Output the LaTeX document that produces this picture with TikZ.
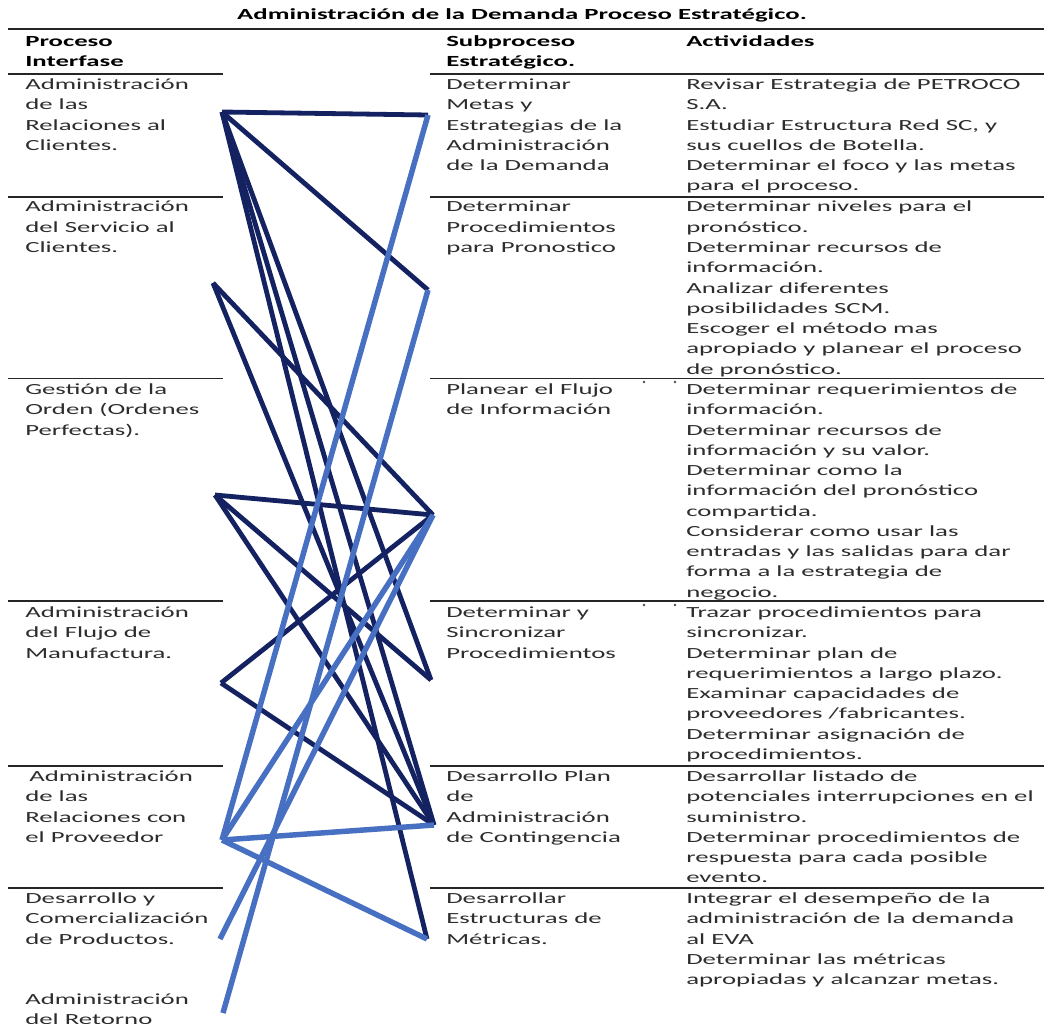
\documentclass[tikz,border=0pt]{standalone}
\usepackage{fontspec}
\setmainfont{Carlito}[FakeStretch=1.73]
\newcommand\cellfont{\fontsize{11.6pt}{15.2pt}\selectfont}
\definecolor{navyline}{RGB}{20,34,98}
\definecolor{steelline}{RGB}{72,112,194}
\definecolor{bodytext}{RGB}{45,45,45}
\begin{document}
\begin{tikzpicture}[x=0.75pt,y=-0.75pt,
  cell/.style={inner sep=0pt, anchor=base west, text=bodytext, font=\cellfont},
  head/.style={cell, text=black, font=\cellfont\bfseries},
  rulel/.style={line width=1.1pt, draw=black!85},
  dark/.style={draw=navyline, line width=3.6pt},
  light/.style={draw=steelline, line width=4.1pt}]
\useasboundingbox (0,0) rectangle (1044,1023);
\fill[white] (0,0) rectangle (1044,1023);

% title and header
\node[head, anchor=base] (title) at (522,19.5) {Administración de la Demanda Proceso Estratégico.};
\draw[rulel] (8,29) -- (1044,29);
\node[head] (h1) at (25,46.5) {\begin{tabular}[t]{@{}l@{}}Proceso\\Interfase\end{tabular}};
\node[head] (h2) at (446,46.5) {\begin{tabular}[t]{@{}l@{}}Subproceso\\Estratégico.\end{tabular}};
\node[head] (h3) at (686,46.5) {Actividades};

% row rules
\foreach \y in {74,197,378.5,601,766,888}{
  \draw[rulel] (8,\y) -- (223,\y);
  \draw[rulel] (430,\y) -- (1044,\y);
}
% small cell-corner marks under two of the rules
\foreach \y in {382,605}{
  \fill[black!70] (644,\y) circle (1pt);
  \fill[black!70] (675,\y) circle (1pt);
}

% left column: interface processes
\node[cell] (p1) at (25,89.5) {\begin{tabular}[t]{@{}l@{}}Administración\\de las\\Relaciones al\\Clientes.\end{tabular}};
\node[cell] (p2) at (25,212) {\begin{tabular}[t]{@{}l@{}}Administración\\del Servicio al\\Clientes.\end{tabular}};
\node[cell] (p3) at (25,394.5) {\begin{tabular}[t]{@{}l@{}}Gestión de la\\Orden (Ordenes\\Perfectas).\end{tabular}};
\node[cell] (p4) at (25,617.5) {\begin{tabular}[t]{@{}l@{}}Administración\\del Flujo de\\Manufactura.\end{tabular}};
\node[cell] (p5) at (25,781.5) {\begin{tabular}[t]{@{}l@{}}\hspace*{3pt}Administración\\de las\\Relaciones con\\el Proveedor\end{tabular}};
\node[cell] (p6) at (25,903.5) {\begin{tabular}[t]{@{}l@{}}Desarrollo y\\Comercialización\\de Productos.\end{tabular}};
\node[cell] (p7) at (25,1004.5) {\begin{tabular}[t]{@{}l@{}}Administración\\del Retorno\end{tabular}};

% middle column: strategic subprocesses
\node[cell] (s1) at (446,89.5) {\begin{tabular}[t]{@{}l@{}}Determinar\\Metas y\\Estrategias de la\\Administración\\de la Demanda\end{tabular}};
\node[cell] (s2) at (446,212) {\begin{tabular}[t]{@{}l@{}}Determinar\\Procedimientos\\para Pronostico\end{tabular}};
\node[cell] (s3) at (446,394.5) {\begin{tabular}[t]{@{}l@{}}Planear el Flujo\\de Información\end{tabular}};
\node[cell] (s4) at (446,617.5) {\begin{tabular}[t]{@{}l@{}}Determinar y\\Sincronizar\\Procedimientos\end{tabular}};
\node[cell] (s5) at (446,781.5) {\begin{tabular}[t]{@{}l@{}}Desarrollo Plan\\de\\Administración\\de Contingencia\end{tabular}};
\node[cell] (s6) at (446,903.5) {\begin{tabular}[t]{@{}l@{}}Desarrollar\\Estructuras de\\Métricas.\end{tabular}};

% right column: activities
\node[cell] (t1) at (686,89.5) {\begin{tabular}[t]{@{}l@{}}Revisar Estrategia de PETROCO\\S.A.\\Estudiar Estructura Red SC, y\\sus cuellos de Botella.\\Determinar el foco y las metas\\para el proceso.\end{tabular}};
\node[cell] (t2) at (686,212) {\begin{tabular}[t]{@{}l@{}}Determinar niveles para el\\pronóstico.\\Determinar recursos de\\información.\\Analizar diferentes\\posibilidades SCM.\\Escoger el método mas\\apropiado y planear el proceso\\de pronóstico.\end{tabular}};
\node[cell] (t3) at (686,394.5) {\begin{tabular}[t]{@{}l@{}}Determinar requerimientos de\\información.\\Determinar recursos de\\información y su valor.\\Determinar como la\\información del pronóstico\\compartida.\\Considerar como usar las\\entradas y las salidas para dar\\forma a la estrategia de\\negocio.\end{tabular}};
\node[cell] (t4) at (686,617.5) {\begin{tabular}[t]{@{}l@{}}Trazar procedimientos para\\sincronizar.\\Determinar plan de\\requerimientos a largo plazo.\\Examinar capacidades de\\proveedores /fabricantes.\\Determinar asignación de\\procedimientos.\end{tabular}};
\node[cell] (t5) at (686,781.5) {\begin{tabular}[t]{@{}l@{}}Desarrollar listado de\\potenciales interrupciones en el\\suministro.\\Determinar procedimientos de\\respuesta para cada posible\\evento.\end{tabular}};
\node[cell] (t6) at (686,903.5) {\begin{tabular}[t]{@{}l@{}}Integrar el desempeño de la\\administración de la demanda\\al EVA\\Determinar las métricas\\apropiadas y alcanzar metas.\end{tabular}};

% link end points
\coordinate (a1) at (222,112);
\coordinate (a2) at (213,283);
\coordinate (a3) at (215,495);
\coordinate (a4) at (221,683);
\coordinate (a5) at (222,840);
\coordinate (a6) at (220,939);
\coordinate (a7) at (223,1013);
\coordinate (b1) at (428,115);
\coordinate (b2) at (428,290);
\coordinate (b3) at (433,515);
\coordinate (b4) at (431,680);
\coordinate (b5) at (434,825);
\coordinate (b6) at (427,939);

% dark links
\draw[dark] (a1) -- (b1);
\draw[dark] (a1) -- (b2);
\draw[dark] (a1) -- (b4);
\draw[dark] (a1) -- (b5);
\draw[dark] (a1) -- (b6);
\draw[dark] (a2) -- (b3);
\draw[dark] (a2) -- (b5);
\draw[dark] (a3) -- (b3);
\draw[dark] (a3) -- (b4);
\draw[dark] (a3) -- (b5);
\draw[dark] (a4) -- (b3);
\draw[dark] (a4) -- (b5);

% light links
\draw[light] (a5) -- (b1);
\draw[light] (a7) -- (b2);
\draw[light] (a5) -- (b3);
\draw[light] (a6) -- (b3);
\draw[light] (a5) -- (b5);
\draw[light] (a5) -- (b6);
\end{tikzpicture}
\end{document}
